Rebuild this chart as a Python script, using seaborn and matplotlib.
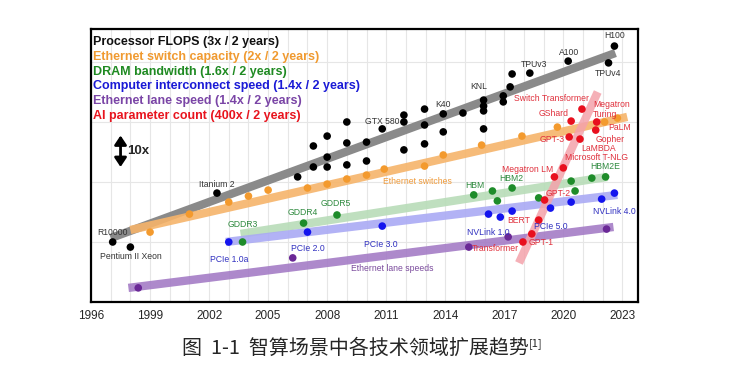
import matplotlib
matplotlib.use('Agg')
import matplotlib.pyplot as plt
import pandas as pd
import seaborn as sns
from matplotlib.ticker import MultipleLocator, FuncFormatter

# x = year, y = log10 of relative value (1 unit = 10x)
flops_year = [1997.1, 1998.0, 2002.4, 2006.5, 2007.3, 2007.3, 2008.0, 2008.0, 2008.0,
              2009.0, 2009.0, 2009.0, 2010.0, 2010.0, 2010.8, 2011.9, 2011.9, 2011.9,
              2012.95, 2012.95, 2012.95, 2013.9, 2013.9, 2014.9, 2015.95, 2015.95,
              2015.95, 2015.95, 2016.95, 2016.95, 2017.3, 2017.4, 2018.3, 2020.25,
              2022.3, 2022.6]
flops_val = [2.00, 1.83, 3.63, 4.17, 4.50, 5.20, 4.83, 4.50, 5.53,
             4.57, 5.30, 6.00, 4.70, 5.33, 5.77, 5.07, 6.00, 6.23,
             5.27, 5.90, 6.43, 5.67, 6.27, 6.30, 5.77, 6.37,
             6.53, 6.73, 6.67, 6.87, 7.17, 7.60, 7.63, 8.03,
             7.97, 8.53]

switch_year = [1999.0, 2001.0, 2003.0, 2004.0, 2005.0, 2007.0, 2008.0, 2009.0, 2010.0,
               2010.9, 2012.95, 2013.9, 2015.85, 2017.9, 2019.7, 2022.1, 2022.75]
switch_val = [2.33, 2.93, 3.33, 3.53, 3.73, 3.80, 3.93, 4.10, 4.23,
              4.43, 4.53, 4.90, 5.23, 5.53, 5.83, 6.00, 6.13]

dram_year = [2003.7, 2006.8, 2008.5, 2015.45, 2016.4, 2016.65, 2017.4, 2018.75,
             2020.4, 2020.6, 2021.45, 2022.15]
dram_val = [2.00, 2.63, 2.90, 3.57, 3.70, 3.37, 3.80, 3.47, 4.03, 3.70, 4.13, 4.17]

link_year = [2003.0, 2007.0, 2010.8, 2016.2, 2016.8, 2017.4, 2019.35, 2020.4, 2021.95, 2022.6]
link_val = [2.00, 2.33, 2.53, 2.93, 2.83, 3.03, 3.13, 3.33, 3.43, 3.63]

lane_year = [1998.4, 2006.25, 2015.2, 2017.2, 2022.2]
lane_val = [0.47, 1.47, 1.83, 2.17, 2.43]

ai_year = [2017.95, 2018.4, 2018.75, 2019.05, 2019.55, 2020.0, 2020.3, 2020.85,
           2020.4, 2020.95, 2021.7, 2021.65]
ai_val = [2.00, 2.27, 2.73, 3.40, 4.17, 4.47, 5.50, 5.43, 6.03, 6.43, 6.00, 5.73]

# fitted trend lines (start, end)
trend_year = {'flops': [1997.0, 2022.65], 'switch': [1998.0, 2023.25],
              'dram': [2003.6, 2022.25], 'link': [2002.85, 2022.75],
              'lane': [1997.9, 2022.55], 'ai': [2017.75, 2021.75]}
trend_val = {'flops': [2.13, 8.30], 'switch': [2.40, 6.17],
             'dram': [2.27, 4.17], 'link': [2.00, 3.57],
             'lane': [0.47, 2.50], 'ai': [1.30, 7.00]}

legend_text = ['Processor FLOPS (3x / 2 years)',
               'Ethernet switch capacity (2x / 2 years)',
               'DRAM bandwidth (1.6x / 2 years)',
               'Computer interconnect speed (1.4x / 2 years)',
               'Ethernet lane speed (1.4x / 2 years)',
               'AI parameter count (400x / 2 years)']

dot_col = {'flops': '#000000', 'switch': '#f39a2e', 'dram': '#1e8c2a',
           'link': '#1414ee', 'lane': '#6a2896', 'ai': '#e8101e'}
line_col = {'flops': '#8a8a8a', 'switch': '#f6b46a', 'dram': '#b8dcb8',
            'link': '#aaaaf4', 'lane': '#a47cc6', 'ai': '#f4a2ab'}
text_col = {'flops': '#111111', 'switch': '#f09a30', 'dram': '#1f8a22',
            'link': '#1a1ad6', 'lane': '#7a45a6', 'ai': '#e8141e'}
lab_col = {'flops': '#333333', 'switch': '#ef9a3a', 'dram': '#2e8a3e',
           'link': '#3030c0', 'lane': '#7a4a9c', 'ai': '#e0303c'}

labels = [
    ('R10000', 1997.1, 2.30, 'flops', 'center'), ('Pentium II Xeon', 1998.0, 1.53, 'flops', 'center'),
    ('Itanium 2', 2002.4, 3.93, 'flops', 'center'), ('GTX 580', 2010.8, 6.03, 'flops', 'center'),
    ('K40', 2013.9, 6.57, 'flops', 'center'), ('KNL', 2015.7, 7.17, 'flops', 'center'),
    ('TPUv3', 2018.5, 7.93, 'flops', 'center'), ('A100', 2020.3, 8.33, 'flops', 'center'),
    ('H100', 2022.6, 8.87, 'flops', 'center'), ('TPUv4', 2022.3, 7.63, 'flops', 'center'),
    ('Ethernet switches', 2012.6, 4.03, 'switch', 'center'),
    ('GDDR3', 2003.7, 2.57, 'dram', 'center'), ('GDDR4', 2006.75, 2.97, 'dram', 'center'),
    ('GDDR5', 2008.45, 3.27, 'dram', 'center'), ('HBM', 2015.5, 3.87, 'dram', 'center'),
    ('HBM2', 2017.35, 4.13, 'dram', 'center'), ('HBM2E', 2022.15, 4.53, 'dram', 'center'),
    ('PCIe 1.0a', 2003.0, 1.43, 'link', 'center'), ('PCIe 2.0', 2007.0, 1.77, 'link', 'center'),
    ('PCIe 3.0', 2010.75, 1.93, 'link', 'center'), ('NVLink 1.0', 2016.2, 2.33, 'link', 'center'),
    ('PCIe 5.0', 2019.35, 2.50, 'link', 'center'), ('NVLink 4.0', 2022.6, 3.03, 'link', 'center'),
    ('Ethernet lane speeds', 2011.3, 1.13, 'lane', 'center'),
    ('Transformer', 2016.55, 1.77, 'ai', 'center'), ('GPT-1', 2018.85, 1.97, 'ai', 'center'),
    ('BERT', 2017.75, 2.73, 'ai', 'center'), ('GPT-2', 2019.75, 3.60, 'ai', 'center'),
    ('Megatron LM', 2018.2, 4.43, 'ai', 'center'), ('Microsoft T-NLG', 2021.7, 4.80, 'ai', 'center'),
    ('LaMBDA', 2021.8, 5.12, 'ai', 'center'), ('GPT-3', 2019.45, 5.43, 'ai', 'center'),
    ('Gopher', 2022.4, 5.42, 'ai', 'center'), ('PaLM', 2022.85, 5.80, 'ai', 'center'),
    ('Megatron\nTuring', 2021.5, 6.42, 'ai', 'left'), ('GShard', 2019.5, 6.27, 'ai', 'center'),
    ('Switch Transformer', 2019.4, 6.77, 'ai', 'center'),
]

series = ['flops', 'switch', 'dram', 'link', 'lane', 'ai']
pts = pd.concat([
    pd.DataFrame({'year': y, 'val': v, 'series': s})
    for s, y, v in zip(series,
                       [flops_year, switch_year, dram_year, link_year, lane_year, ai_year],
                       [flops_val, switch_val, dram_val, link_val, lane_val, ai_val])
], ignore_index=True)
trend = pd.concat([
    pd.DataFrame({'year': trend_year[s], 'val': trend_val[s], 'series': s}) for s in series
], ignore_index=True)

sns.set_theme(style='white')
plt.rcParams['font.family'] = ['Liberation Sans', 'Noto Sans CJK SC', 'DejaVu Sans']

fig = plt.figure(figsize=(7.48, 3.75), dpi=100)
ax = fig.add_axes([0.1217, 0.1947, 0.7313, 0.728])

alphas = {'flops': 1.0, 'switch': 0.9, 'dram': 0.9, 'link': 0.9, 'lane': 0.9, 'ai': 0.85}
for s in series:
    sns.lineplot(data=trend[trend.series == s], x='year', y='val', color=line_col[s],
                 linewidth=6, alpha=alphas[s], solid_capstyle='butt', ax=ax, zorder=2)

sns.scatterplot(data=pts, x='year', y='val', hue='series', palette=dot_col,
                s=30, linewidth=0, legend=False, ax=ax, zorder=3)

for txt, x, y, s, ha in labels:
    ax.text(x, y, txt, color=lab_col[s], fontsize=6.2, ha=ha, va='center', zorder=4,
            linespacing=1.1)

for i, (txt, s) in enumerate(zip(legend_text, series)):
    ax.text(0.004, 0.951 - i * 0.0538, txt, transform=ax.transAxes, color=text_col[s],
            fontsize=9, fontweight='bold', ha='left', va='center')

# 10x scale arrow
ax.annotate('', xy=(1997.5, 5.55), xytext=(1997.5, 4.5),
            arrowprops=dict(arrowstyle='<|-|>,head_length=0.45,head_width=0.3',
                            lw=2, color='black', shrinkA=0, shrinkB=0))
ax.text(1997.85, 5.03, '10x', fontsize=9.5, fontweight='bold', va='center', ha='left')

ax.set_xlim(1996, 2023.8)
ax.set_ylim(0, 9.1)
ax.xaxis.set_major_locator(MultipleLocator(1))
ax.xaxis.set_minor_locator(MultipleLocator(0.25))
ax.xaxis.set_major_formatter(FuncFormatter(
    lambda v, p: f'{int(round(v))}' if (int(round(v)) - 1996) % 3 == 0 else ''))
ax.set_yticks([2, 4, 6, 8])
ax.set_yticklabels([])
ax.tick_params(axis='y', length=0)
ax.tick_params(axis='x', which='major', length=4, width=1.2, direction='out',
               labelsize=8.5, pad=2, color='black')
ax.tick_params(axis='x', which='minor', length=2, width=0.8, direction='out', color='black')
ax.grid(True, which='major', color='#e6e6e6', linewidth=0.8)
ax.set_axisbelow(True)
ax.set_xlabel('')
ax.set_ylabel('')
for sp in ax.spines.values():
    sp.set_color('black')
    sp.set_linewidth(1.6)

cap = fig.text(0.243, 0.07, '图  1-1  智算场景中各技术领域扩展趋势', fontsize=14.4,
               family=['Noto Sans CJK SC', 'DejaVu Sans'], ha='left', va='center')
ax.annotate('[1]', xy=(1, 1), xycoords=cap, fontsize=8, ha='left', va='top',
            family=['Noto Sans CJK SC', 'DejaVu Sans'], annotation_clip=False)

fig.savefig('out.png', dpi=100)
